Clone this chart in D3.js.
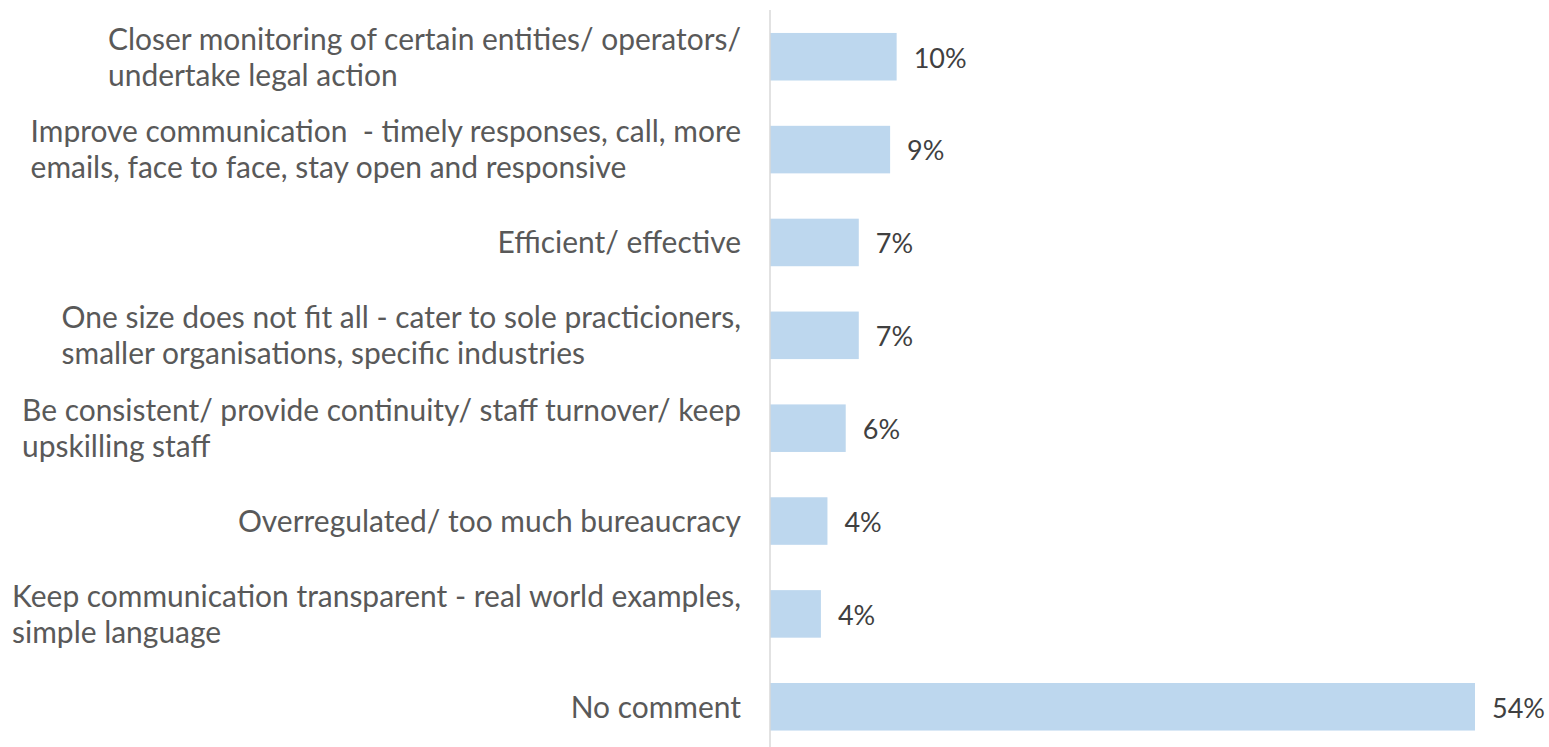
<!DOCTYPE html>
<html>
<head>
<meta charset="utf-8">
<script src="https://cdn.jsdelivr.net/npm/d3@7"></script>
<style>
  html, body { margin: 0; padding: 0; background: #ffffff; }
  svg { display: block; }
  text { white-space: pre; }
</style>
</head>
<body>
<svg id="chart" width="1549" height="747"></svg>
<script>
// Response categories (line breaks mark where the label wraps)
const categories = [
  "Closer monitoring of certain entities/ operators/\nundertake legal action",
  "Improve communication  - timely responses, call, more\nemails, face to face, stay open and responsive",
  "Efficient/ effective",
  "One size does not fit all - cater to sole practicioners,\nsmaller organisations, specific industries",
  "Be consistent/ provide continuity/ staff turnover/ keep\nupskilling staff",
  "Overregulated/ too much bureaucracy",
  "Keep communication transparent - real world examples,\nsimple language",
  "No comment"
];

// Share of respondents, in percent
const shares = [9.7, 9.2, 6.8, 6.8, 5.8, 4.4, 3.9, 54.0];

const W = 1549, H = 747;
const axisX = 770;
const labelRight = 741;
const fontFamily = "Lato, 'Open Sans', 'Noto Sans', sans-serif";

const svg = d3.select("#chart");

// Measure a string at 100px to size the fonts to the available room
function widthAt100(str) {
  const p = svg.append("text")
    .attr("font-family", fontFamily)
    .attr("font-size", 100)
    .text(str);
  const w = p.node().getComputedTextLength();
  p.remove();
  return w;
}
const fontSize = Math.min(30, 100 * 729 / widthAt100("Keep communication transparent - real world examples,"));
const valueFontSize = Math.min(30, 100 * 53 / widthAt100("54%"));
const lineH = 36;

const x = d3.scaleLinear()
  .domain([0, 54])
  .range([axisX, 1475]);

const y = d3.scaleBand()
  .domain(categories)
  .range([10.3, 753.2])
  .paddingInner(0.488)
  .paddingOuter(0.244);

// Bars
svg.append("g")
  .selectAll("rect")
  .data(categories)
  .join("rect")
  .attr("x", x(0))
  .attr("y", d => y(d))
  .attr("width", (d, i) => x(shares[i]) - x(0))
  .attr("height", y.bandwidth())
  .attr("fill", "#BDD7EE");

// Category axis line
svg.append("line")
  .attr("x1", axisX).attr("x2", axisX)
  .attr("y1", 10).attr("y2", H)
  .attr("stroke", "#D9D9D9")
  .attr("stroke-width", 1.5);

// Category labels: each wrapped block is right-aligned to the axis,
// with its lines left-aligned inside the block
const labels = svg.append("g")
  .attr("font-family", fontFamily)
  .attr("font-size", fontSize)
  .attr("fill", "#595959");

categories.forEach(c => {
  const lines = c.split("\n");
  const cy = y(c) + y.bandwidth() / 2;
  const t = labels.append("text");
  const spans = lines.map((ln, k) => t.append("tspan")
    .attr("y", cy - (lines.length - 1) * lineH / 2 + k * lineH + 0.36 * fontSize)
    .text(ln));
  const blockW = d3.max(spans, s => s.node().getComputedTextLength());
  spans.forEach(s => s.attr("x", labelRight - blockW));
});

// Value labels at the end of each bar
const fmt = d => d3.format(".0f")(d) + "%";
svg.append("g")
  .attr("font-family", fontFamily)
  .attr("font-size", valueFontSize)
  .attr("fill", "#404040")
  .selectAll("text")
  .data(categories)
  .join("text")
  .attr("x", (d, i) => x(shares[i]) + 17)
  .attr("y", d => y(d) + y.bandwidth() / 2 + 0.4 * valueFontSize)
  .text((d, i) => fmt(shares[i]));
</script>
</body>
</html>
